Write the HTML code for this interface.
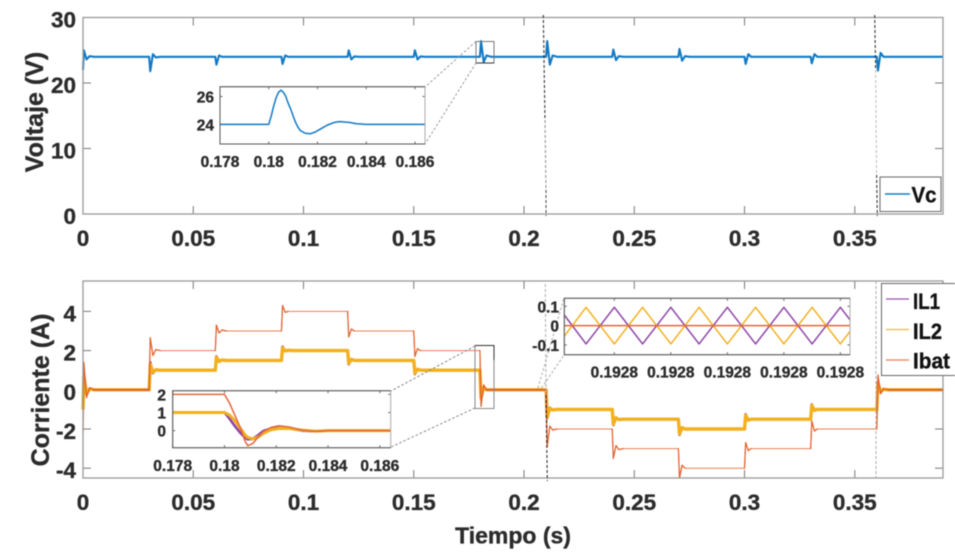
<!DOCTYPE html>
<html lang="es">
<head>
<meta charset="utf-8">
<title>Voltaje y corriente</title>
<style>
html,body{margin:0;padding:0;background:#fff;width:955px;height:555px;overflow:hidden}
svg{display:block;filter:blur(.55px)}
text{font-family:"Liberation Sans",sans-serif;font-weight:bold;fill:#2b2b2b;stroke:#2b2b2b;stroke-width:.35px}
</style>
</head>
<body>
<svg id="chart" width="955" height="555" viewBox="0 0 955 555" xmlns="http://www.w3.org/2000/svg">
  <g id="mainLayer"></g>
  <g id="guideLayer">
    <path d="M543.3 15L545 120" stroke="#222" stroke-width="1" stroke-dasharray="3 2" fill="none"/>
    <path d="M545 120L546 190" stroke="#888" stroke-width="1" stroke-dasharray="3 2" fill="none"/>
    <path d="M546 190L546 216" stroke="#444" stroke-width="1" stroke-dasharray="3 2" fill="none"/>
    <path d="M874.7 15L875.6 70" stroke="#222" stroke-width="1" stroke-dasharray="3 2" fill="none"/>
    <path d="M875.6 70L876.6 175" stroke="#bbb" stroke-width="1" stroke-dasharray="3 2" fill="none"/>
    <path d="M876.6 175L877.3 216" stroke="#222" stroke-width="1" stroke-dasharray="3 2" fill="none"/>
    <path d="M545.3 284L546 395" stroke="#aaa" stroke-width="1" stroke-dasharray="3 2" fill="none"/>
    <path d="M546 395L547.3 481" stroke="#222" stroke-width="1" stroke-dasharray="3 2" fill="none"/>
    <path d="M876 281L876 478" stroke="#aaa" stroke-width="1" stroke-dasharray="3 2" fill="none"/>
    <rect x="476" y="41.5" width="18" height="21.5" fill="none" stroke="#777" stroke-width="1"/>
    <path d="M476 63H494" stroke="#333" stroke-width="1" fill="none"/>
    <path d="M476 41.5L425 87" stroke="#999" stroke-width="1" stroke-dasharray="2.5 2" fill="none"/>
    <path d="M476 63L425 144" stroke="#999" stroke-width="1" stroke-dasharray="2.5 2" fill="none"/>
    <rect x="475" y="345.5" width="19" height="63" fill="none" stroke="#888" stroke-width="1"/>
    <path d="M475 345.5H494V360" stroke="#333" stroke-width="1" fill="none"/>
    <path d="M475 346L391 391" stroke="#888" stroke-width="1" stroke-dasharray="2.5 2" fill="none"/>
    <path d="M475 408L391 447" stroke="#888" stroke-width="1" stroke-dasharray="2.5 2" fill="none"/>
    <path d="M538 388L564 298" stroke="#aaa" stroke-width="1" stroke-dasharray="2.5 2" fill="none"/>
    <path d="M541.5 388L564 355" stroke="#aaa" stroke-width="1" stroke-dasharray="2.5 2" fill="none"/>
  </g>
  <g id="insetLayer"></g>

  <text transform="translate(43 112) rotate(-90)" text-anchor="middle" font-size="25">Voltaje (V)</text>
  <text transform="translate(49 390) rotate(-90)" text-anchor="middle" font-size="25">Corriente (A)</text>
  <text x="513" y="543.5" text-anchor="middle" font-size="23">Tiempo (s)</text>

  <g>
    <rect x="880" y="177" width="61" height="34.5" fill="#fff" stroke="#666" stroke-width="1"/>
    <line x1="885" x2="910" y1="194" y2="194" stroke="#0f7fc8" stroke-width="1.4"/>
    <text x="911.5" y="202.5" font-size="22" textLength="25" lengthAdjust="spacingAndGlyphs" style="fill:#111;stroke:#111">Vc</text>
  </g>
  <g>
    <rect x="881.5" y="283.5" width="80" height="92" fill="#fff" stroke="#666" stroke-width="1"/>
    <line x1="886" x2="909" y1="299" y2="299" stroke="#9a55b0" stroke-width="1.3"/>
    <text x="913" y="309" font-size="22" textLength="27" lengthAdjust="spacingAndGlyphs" style="fill:#111;stroke:#111">IL1</text>
    <line x1="886" x2="909" y1="329.5" y2="329.5" stroke="#f0b93a" stroke-width="1.3"/>
    <text x="913" y="339" font-size="22" textLength="29" lengthAdjust="spacingAndGlyphs" style="fill:#111;stroke:#111">IL2</text>
    <line x1="886" x2="909" y1="360" y2="360" stroke="#ee9070" stroke-width="1.6"/>
    <text x="913" y="368.5" font-size="22" textLength="37" lengthAdjust="spacingAndGlyphs" style="fill:#111;stroke:#111">Ibat</text>
  </g>
</svg>
<script>
// ---- main x axis ----
const mainXTicks = [0, 0.05, 0.1, 0.15, 0.2, 0.25, 0.3, 0.35];
const mainXLabels = ['0', '0.05', '0.1', '0.15', '0.2', '0.25', '0.3', '0.35'];
// ---- voltage panel ----
const voltageYTicks = [0, 10, 20, 30];
const voltageYLabels = ['0', '10', '20', '30'];
// ---- current panel ----
const currentYTicks = [-4, -2, 0, 2, 4];
const currentYLabels = ['-4', '-2', '0', '2', '4'];
// ---- time base shared by main-panel series ----
const mainTime = [
  0, .0004, .0016, .003, .005,
  .03, .0305, .0317, .033, .035,
  .06, .0605, .0617, .063, .065,
  .09, .0905, .0917, .093, .095,
  .12, .1205, .1217, .123, .125,
  .15, .1505, .1517, .153, .155,
  .18, .1805, .1817, .183, .185,
  .21, .2105, .2117, .213, .215,
  .24, .2405, .2417, .243, .245,
  .27, .2705, .2717, .273, .275,
  .3, .3005, .3017, .303, .305,
  .33, .3305, .3317, .333, .335,
  .36, .3605, .3617, .363, .365, .39];
const vcValues = [
  22, 25, 23.6, 24.1, 24,
  24, 21.8, 24.4, 23.9, 24,
  24, 22.8, 24.2, 24, 24,
  24, 22.9, 24.2, 24, 24,
  24, 25, 23.6, 24.05, 24,
  24, 25, 23.6, 24.05, 24,
  24, 26.4, 23.2, 24.2, 24,
  24, 26.4, 22.8, 24.2, 24,
  24, 25.1, 23.5, 24.1, 24,
  24, 25.2, 23.4, 24.1, 24,
  24, 22.9, 24.4, 24, 24,
  24, 23, 24.4, 24, 24,
  24, 21.9, 24.6, 24, 24, 24];
const il1Values = [
  -1, .7, -.2, .05, 0,
  0, 1.4, .85, 1.03, 1,
  1, 1.7, 1.43, 1.52, 1.5,
  1.5, 2.2, 1.97, 2.02, 2,
  2, 1.3, 1.55, 1.5, 1.5,
  1.5, .8, 1.05, 1, 1,
  1, -.45, .13, 0, 0,
  0, -1.45, -.92, -1.03, -1,
  -1, -1.8, -1.42, -1.52, -1.5,
  -1.5, -2.3, -1.92, -2, -2,
  -2, -1.25, -1.55, -1.5, -1.5,
  -1.5, -.75, -1.05, -1, -1,
  -1, .4, -.1, .03, 0, 0];
const il2Values = [
  -1, .7, -.2, .05, 0,
  0, 1.3, .9, 1.02, 1,
  1, 1.65, 1.45, 1.52, 1.5,
  1.5, 2.15, 1.98, 2.02, 2,
  2, 1.35, 1.55, 1.5, 1.5,
  1.5, .85, 1.05, 1, 1,
  1, -.4, .12, 0, 0,
  0, -1.4, -.93, -1.03, -1,
  -1, -1.75, -1.43, -1.52, -1.5,
  -1.5, -2.25, -1.93, -2, -2,
  -2, -1.3, -1.55, -1.5, -1.5,
  -1.5, -.8, -1.05, -1, -1,
  -1, .35, -.1, .03, 0, 0];
const ibatValues = [
  -2.2, 1.4, -.4, .1, 0,
  0, 2.65, 1.75, 2.05, 2,
  2, 3.3, 2.9, 3.05, 3,
  3, 4.3, 3.95, 4, 4,
  4, 2.7, 3.1, 3, 3,
  3, 1.7, 2.1, 2, 2,
  2, -.85, .25, 0, 0,
  0, -2.9, -1.85, -2.05, -2,
  -2, -3.5, -2.85, -3.05, -3,
  -3, -4.5, -3.85, -4, -4,
  -4, -2.7, -3.1, -3, -3,
  -3, -1.6, -2.1, -2, -2,
  -2, .75, -.2, .05, 0, 0];
// ---- voltage inset ----
const vInsetXTicks = [0.178, 0.18, 0.182, 0.184, 0.186];
const vInsetXLabels = ['0.178', '0.18', '0.182', '0.184', '0.186'];
const vInsetYTicks = [24, 26];
const vInsetYLabels = ['24', '26'];
const vInsetTime = [.178, .18, .1801, .1802, .1803, .1804, .1805, .1806, .1807, .1808, .1809, .181, .1811, .1812, .1813, .1815, .1817, .1819, .1821, .1824, .1827, .1829, .1833, .1836, .184, .1864];
const vInsetValues = [24, 24, 24.6, 25.3, 25.9, 26.3, 26.45, 26.3, 26.0, 25.5, 25.1, 24.6, 24.15, 23.8, 23.55, 23.37, 23.33, 23.45, 23.65, 23.95, 24.15, 24.2, 24.15, 24.05, 24, 24];
// ---- current step inset ----
const iInsetXTicks = [0.178, 0.18, 0.182, 0.184, 0.186];
const iInsetXLabels = ['0.178', '0.18', '0.182', '0.184', '0.186'];
const iInsetYTicks = [0, 1, 2];
const iInsetYLabels = ['0', '1', '2'];
const iInsetTime = [.178, .18, .1802, .1804, .1806, .1808, .1809, .1811, .1813, .1815, .1818, .1821, .1825, .183, .1835, .184, .1864];
const iInsetIL1 = [1, 1, .65, .25, -.1, -.4, -.48, -.45, -.25, -.02, .12, .15, .12, 0, -.03, 0, 0];
const iInsetIL2 = [1, 1, .85, .55, .15, -.25, -.38, -.45, -.35, -.15, .05, .12, .12, .03, -.03, 0, 0];
const iInsetIbat = [2, 2, 1.5, .85, .2, -.6, -.83, -.7, -.35, -.05, .18, .27, .2, .02, -.05, 0, 0];
// ---- ripple inset ----
const rInsetXTicks = [0.19276, 0.19278, 0.1928, 0.19282, 0.19284];
const rInsetXLabels = ['0.1928', '0.1928', '0.1928', '0.1928', '0.1928'];
const rInsetYTicks = [-0.1, 0, 0.1];
const rInsetYLabels = ['-0.1', '0', '0.1'];
const rInsetTime = [.1927423, .19275, .19276, .19277, .19278, .19279, .1928, .19281, .19282, .19283, .19284, .1928434];
const rInsetIL1 = [.055, -.095, .095, -.095, .095, -.095, .095, -.095, .095, -.095, .095, .03];
const rInsetIL2 = [-.055, .095, -.095, .095, -.095, .095, -.095, .095, -.095, .095, -.095, -.03];
const rInsetIbat = [0, 0, 0, 0, 0, 0, 0, 0, 0, 0, 0, 0];

const NS = 'http://www.w3.org/2000/svg';
const PURPLE = '#8e44a8', YELLOW = '#f2b01e', ORANGE = '#e2683a', BLUE = '#1179c4';

function scale(d0, d1, r0, r1) {
  return v => r0 + (v - d0) / (d1 - d0) * (r1 - r0);
}
function node(parent, tag, attrs, name) {
  const el = document.createElementNS(NS, tag);
  for (const k in attrs) el.setAttribute(k, attrs[k]);
  
  
  parent.appendChild(el);
  return el;
}
function series(parent, xs, ys, sx, sy, color, width, name) {
  const pts = xs.map((x, i) => sx(x).toFixed(2) + ',' + sy(ys[i]).toFixed(2)).join(' ');
  return node(parent, 'polyline', {
    points: pts, fill: 'none', stroke: color, 'stroke-width': width,
    'stroke-linejoin': 'round', 'stroke-linecap': 'butt'
  }, name);
}
function axes(parent, a) {
  const g = node(parent, 'g', {}, a.name + '-axes');
  const {l, r, t, b, sx, sy} = a;
  node(g, 'rect', {x: l, y: t, width: r - l, height: b - t, fill: '#fff', stroke: 'none'}, a.name + '-background');
  a.xTicks.forEach((v, i) => {
    const x = sx(v);
    node(g, 'line', {x1: x, x2: x, y1: b, y2: b - a.tick, stroke: a.tickColor, 'stroke-width': 1}, a.name + '-x-tick');
    node(g, 'line', {x1: x, x2: x, y1: t, y2: t + a.tick, stroke: a.tickColor, 'stroke-width': 1}, a.name + '-x-tick-top');
    const lbl = node(g, 'text', {x: x + (a.xLabelDx || 0), y: a.xLabelY, 'text-anchor': 'middle', 'font-size': a.xFont}, a.name + '-x-tick-label');
    lbl.textContent = a.xLabels[i];
  });
  a.yTicks.forEach((v, i) => {
    const y = sy(v);
    node(g, 'line', {x1: l, x2: l + a.tick, y1: y, y2: y, stroke: a.tickColor, 'stroke-width': 1}, a.name + '-y-tick');
    node(g, 'line', {x1: r, x2: r - a.tick, y1: y, y2: y, stroke: a.tickColor, 'stroke-width': 1}, a.name + '-y-tick-right');
    const lbl = node(g, 'text', {x: a.yLabelX, y: y + a.yLabelDy, 'text-anchor': 'end', 'font-size': a.yFont}, a.name + '-y-tick-label');
    lbl.textContent = a.yLabels[i];
  });
  return g;
}
function frame(parent, a) {
  node(parent, 'rect', {x: a.l, y: a.t, width: a.r - a.l, height: a.b - a.t, fill: 'none', stroke: a.frameColor, 'stroke-width': a.frameWidth}, a.name + '-frame');
  if (a.darkEdge) {
    node(parent, 'path', {d: `M${a.r} ${a.t}H${a.l}V${a.b}H${a.r}`, fill: 'none', stroke: a.darkEdge, 'stroke-width': 1}, a.name + '-frame-dark-edge');
  }
}
// Overlays the parts of the battery current that read darker in the figure:
// the fast transients and the flat stretches at zero, where it sits over the inductor currents.
function ibatEmphasis(parent, xs, ys, sx, sy) {
  for (let i = 0; i < xs.length - 1; i++) {
    const flat = Math.abs(ys[i + 1] - ys[i]) < 0.001;
    if (flat && ys[i] !== 0) continue;
    node(parent, 'line', {
      x1: sx(xs[i]), y1: sy(ys[i]), x2: sx(xs[i + 1]), y2: sy(ys[i + 1]),
      stroke: '#e0602c', 'stroke-width': flat ? 1.8 : 1.2, 'stroke-linecap': 'round'
    }, 'ibat-emphasis-segment');
  }
}

const mainLayer = document.getElementById('mainLayer');
const insetLayer = document.getElementById('insetLayer');

// Voltage panel
const vPanel = {
  name: 'voltage-panel', l: 83, r: 943, t: 17.5, b: 214, tick: 8, tickColor: '#777',
  sx: scale(0, 0.39, 83, 943), sy: scale(0, 30, 214, 17.5),
  xTicks: mainXTicks, xLabels: mainXLabels, yTicks: voltageYTicks, yLabels: voltageYLabels,
  xLabelY: 246, xFont: 22.5, yLabelX: 76, yLabelDy: 10, yFont: 22.5, frameColor: '#999', frameWidth: 1.3
};
axes(mainLayer, vPanel);
series(mainLayer, mainTime, vcValues, vPanel.sx, vPanel.sy, BLUE, 2.1, 'vc-line');
frame(mainLayer, vPanel);

// Current panel
const iPanel = {
  name: 'current-panel', l: 83, r: 943, t: 281, b: 478, tick: 8, tickColor: '#777',
  sx: scale(0, 0.39, 83, 943), sy: scale(-4.5, 5.55, 478, 281),
  xTicks: mainXTicks, xLabels: mainXLabels, yTicks: currentYTicks, yLabels: currentYLabels,
  xLabelY: 510, xFont: 22.5, yLabelX: 76, yLabelDy: 10, yFont: 22.5, frameColor: '#999', frameWidth: 1.3
};
axes(mainLayer, iPanel);
series(mainLayer, mainTime, il1Values, iPanel.sx, iPanel.sy, PURPLE, 2.6, 'il1-line');
series(mainLayer, mainTime, il2Values, iPanel.sx, iPanel.sy, YELLOW, 3.4, 'il2-line');
series(mainLayer, mainTime, ibatValues, iPanel.sx, iPanel.sy, '#ea7d55', 1, 'ibat-line');
ibatEmphasis(mainLayer, mainTime, ibatValues, iPanel.sx, iPanel.sy);
frame(mainLayer, iPanel);

// Voltage inset
const vInset = {
  name: 'voltage-inset', l: 220, r: 425, t: 86.7, b: 144, tick: 2.5, tickColor: '#666',
  sx: scale(0.178, 0.18641, 220, 425), sy: scale(22.6, 26.7, 144, 86.7),
  xTicks: vInsetXTicks, xLabels: vInsetXLabels, yTicks: vInsetYTicks, yLabels: vInsetYLabels,
  xLabelY: 167, xFont: 15.5, yLabelX: 214, yLabelDy: 6, yFont: 15.5, frameColor: '#aaa', frameWidth: 1, darkEdge: '#555'
};
axes(insetLayer, vInset);
series(insetLayer, vInsetTime, vInsetValues, vInset.sx, vInset.sy, BLUE, 1.5, 'voltage-inset-line');
frame(insetLayer, vInset);

// Current step inset
const iInset = {
  name: 'current-inset', l: 172.7, r: 390.7, t: 390.7, b: 447.7, tick: 2.5, tickColor: '#666',
  sx: scale(0.178, 0.18642, 172.7, 390.7), sy: scale(-0.94, 2.2, 447.7, 390.7),
  xTicks: iInsetXTicks, xLabels: iInsetXLabels, yTicks: iInsetYTicks, yLabels: iInsetYLabels,
  xLabelY: 471, xFont: 15.5, yLabelX: 166, yLabelDy: 6, yFont: 15.5, frameColor: '#aaa', frameWidth: 1, darkEdge: '#555'
};
axes(insetLayer, iInset);
series(insetLayer, iInsetTime, iInsetIL1, iInset.sx, iInset.sy, PURPLE, 2.6, 'current-inset-il1');
series(insetLayer, iInsetTime, iInsetIL2, iInset.sx, iInset.sy, YELLOW, 3, 'current-inset-il2');
series(insetLayer, iInsetTime, iInsetIbat, iInset.sx, iInset.sy, '#e2683a', 1.5, 'current-inset-ibat');
frame(insetLayer, iInset);

// Ripple inset
const rInset = {
  name: 'ripple-inset', l: 564.3, r: 850, t: 298.3, b: 354.7, tick: 2.5, tickColor: '#666',
  sx: scale(0.1927423, 0.1928434, 564.3, 850), sy: scale(-0.1507, 0.1415, 354.7, 298.3),
  xTicks: rInsetXTicks, xLabels: rInsetXLabels, yTicks: rInsetYTicks, yLabels: rInsetYLabels,
  xLabelY: 377.5, xFont: 15.5, yLabelX: 559, yLabelDy: 6, yFont: 15.5, frameColor: '#aaa', frameWidth: 1, darkEdge: '#555'
};
axes(insetLayer, rInset);
series(insetLayer, rInsetTime, rInsetIL1, rInset.sx, rInset.sy, PURPLE, 1.5, 'ripple-inset-il1');
series(insetLayer, rInsetTime, rInsetIL2, rInset.sx, rInset.sy, YELLOW, 1.5, 'ripple-inset-il2');
series(insetLayer, rInsetTime, rInsetIbat, rInset.sx, rInset.sy, ORANGE, 1.5, 'ripple-inset-ibat');
frame(insetLayer, rInset);
</script>
</body>
</html>
